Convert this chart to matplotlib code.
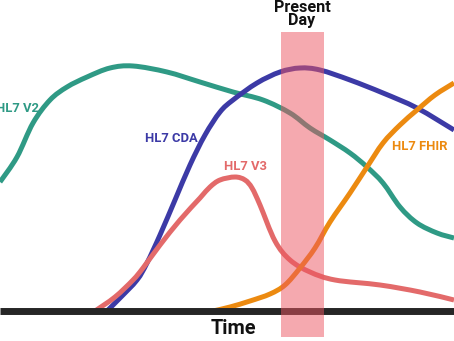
import matplotlib.pyplot as plt
from matplotlib.path import Path
from matplotlib.patches import PathPatch

# Time axis position and adoption level (height above the baseline) for each standard
v2_time = [0, 17, 33, 50, 67, 87, 110, 133, 167, 200, 233, 263, 290, 310, 330, 350, 367, 383, 400, 417, 437, 454]
v2_level = [129, 154, 188, 211, 224, 234, 243, 245, 239, 229, 219, 211, 198, 183, 171, 158, 144, 128, 104, 88, 78, 73]

cda_time = [107, 120, 137, 147, 160, 175, 190, 205, 220, 233, 257, 280, 300, 320, 350, 383, 417, 454]
cda_level = [0, 13, 31, 48, 76, 111, 146, 176, 199, 211, 228, 239, 243, 241, 231, 218, 203, 181]

v3_time = [95, 115, 133, 143, 160, 180, 200, 210, 220, 235, 245, 252, 260, 275, 290, 310, 335, 380, 420, 454]
v3_level = [0, 14, 31, 43, 66, 91, 113, 124, 131, 134, 131, 123, 106, 70, 51, 39, 31, 26, 19, 11]

fhir_time = [213, 230, 250, 270, 285, 300, 315, 330, 350, 367, 383, 400, 417, 435, 454]
fhir_level = [0, 4, 10, 17, 26, 43, 63, 89, 118, 144, 168, 186, 201, 216, 228]

present_start, present_end = 281, 324


def smooth_path(xs, ys):
    # Catmull-Rom through the points, written as cubic Bezier segments
    pts = list(zip(xs, ys))
    verts = [pts[0]]
    codes = [Path.MOVETO]
    for i in range(len(pts) - 1):
        p0 = pts[i - 1] if i > 0 else pts[i]
        p1 = pts[i]
        p2 = pts[i + 1]
        p3 = pts[i + 2] if i + 2 < len(pts) else pts[i + 1]
        c1 = (p1[0] + (p2[0] - p0[0]) / 6, p1[1] + (p2[1] - p0[1]) / 6)
        c2 = (p2[0] - (p3[0] - p1[0]) / 6, p2[1] - (p3[1] - p1[1]) / 6)
        verts += [c1, c2, p2]
        codes += [Path.CURVE4] * 3
    return Path(verts, codes)


fig = plt.figure(figsize=(4.54, 3.41), dpi=100)
ax = fig.add_axes([0, 0, 1, 1])
ax.set_xlim(0, 454)
ax.set_ylim(-30, 311)
ax.axis("off")

font = "Roboto"
lw = 3.6

green = "#2f9a85"
blue = "#3c3aa6"
red = "#e36a6a"
orange = "#ec8a10"

for xs, ys, c in [(v2_time, v2_level, green), (cda_time, cda_level, blue),
                  (v3_time, v3_level, red), (fhir_time, fhir_level, orange)]:
    ax.add_patch(PathPatch(smooth_path(xs, ys), facecolor="none", edgecolor=c,
                           lw=lw, capstyle="butt", joinstyle="round", zorder=2))

# Baseline
ax.plot([0, 454], [0, 0], color="#262626", lw=5, solid_capstyle="butt", zorder=3)

# Present day band over the curves
ax.axvspan(present_start, present_end, ymin=4 / 341, ymax=309 / 341,
           color="#ec5560", alpha=0.5, lw=0, zorder=4)

label_kw = dict(family=font, fontweight="bold", fontsize=9.4, ha="center", va="center")
ax.text(18, 203, "HL7 V2", color=green, **label_kw)
ax.text(171, 173, "HL7 CDA", color=blue, **label_kw)
ax.text(245, 144, "HL7 V3", color=red, **label_kw)
ax.text(420, 164, "HL7 FHIR", color=orange, **label_kw)

ax.text(302, 297, "Present\nDay", family=font, fontweight="bold", fontsize=11.6,
        ha="center", va="center", linespacing=0.88, color="#111111")
ax.text(233, -17, "Time", family=font, fontweight="bold", fontsize=14.3,
        ha="center", va="center", color="#111111")

plt.savefig("out.png", dpi=100)
